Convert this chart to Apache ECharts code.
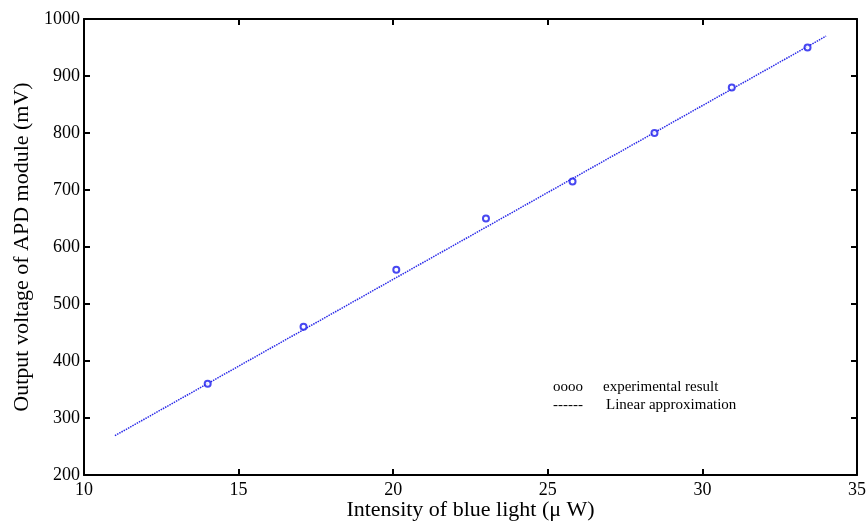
<!DOCTYPE html>
<html><head><meta charset="utf-8">
<script src="https://cdn.jsdelivr.net/npm/echarts@6/dist/echarts.min.js"></script>
<style>html,body{margin:0;padding:0;background:#fff}#c{width:867px;height:521px}</style>
</head><body><div id="c"></div>
<script>
const expX = [14, 17.1, 20.1, 23.0, 25.8, 28.45, 30.95, 33.4];
const expY = [360, 460, 560, 650, 715, 800, 880, 950];
const fitX = [11, 34];
const fitY = [269, 970];
const xTitle = 'Intensity of blue light (\u03bc W)';
const yTitle = 'Output voltage of APD module (mV)';
const legendSymbols = ['oooo', '------'];
const legendNames = ['experimental result', 'Linear approximation'];

const font = '"Liberation Serif","Times New Roman",serif';
const chart = echarts.init(document.getElementById('c'));
const axisCommon = {
  type: 'value',
  axisLine: {show: true, lineStyle: {color: '#000', width: 2}},
  axisTick: {show: true, inside: true, length: 6, lineStyle: {color: '#000', width: 2}},
  splitLine: {show: false}
};
chart.setOption({
  animation: false,
  grid: {left: 84, right: 10, top: 19, bottom: 46, containLabel: false, outerBoundsMode: 'none'},
  xAxis: [
    Object.assign({}, axisCommon, {min: 10, max: 35, interval: 5, position: 'bottom',
      axisLabel: {color: '#000', fontFamily: font, fontSize: 18, margin: 6, formatter: v => String(v)},
      name: xTitle, nameLocation: 'middle', nameGap: 24, nameMoveOverlap: false,
      nameTextStyle: {color: '#000', fontFamily: font, fontSize: 22}}),
    Object.assign({}, axisCommon, {min: 10, max: 35, interval: 5, position: 'top', axisLabel: {show: false}})
  ],
  yAxis: [
    Object.assign({}, axisCommon, {min: 200, max: 1000, interval: 100, position: 'left',
      axisLabel: {color: '#000', fontFamily: font, fontSize: 18, margin: 4, formatter: v => String(v)},
      name: yTitle, nameLocation: 'middle', nameGap: 51, nameMoveOverlap: false,
      nameTextStyle: {color: '#000', fontFamily: font, fontSize: 22}}),
    Object.assign({}, axisCommon, {min: 200, max: 1000, interval: 100, position: 'right', axisLabel: {show: false}})
  ],
  series: [
    {type: 'line', data: fitX.map((x, i) => [x, fitY[i]]), showSymbol: false,
      lineStyle: {color: '#2a2ae8', width: 1.5, type: [1.5, 1]}, z: 2},
    {type: 'scatter', data: expX.map((x, i) => [x, expY[i]]), symbol: 'emptyCircle', symbolSize: 6,
      itemStyle: {color: '#1a1aee', borderColor: '#1a1aee', borderWidth: 1.4}, z: 3}
  ],
  graphic: [
    {type: 'text', left: 553, top: 380, style: {text: legendSymbols[0], font: '15px ' + font, fill: '#000'}},
    {type: 'text', left: 603, top: 380, style: {text: legendNames[0], font: '15px ' + font, fill: '#000'}},
    {type: 'text', left: 553, top: 398, style: {text: legendSymbols[1], font: '15px ' + font, fill: '#000'}},
    {type: 'text', left: 606, top: 398, style: {text: legendNames[1], font: '15px ' + font, fill: '#000'}}
  ]
});
</script></body></html>
